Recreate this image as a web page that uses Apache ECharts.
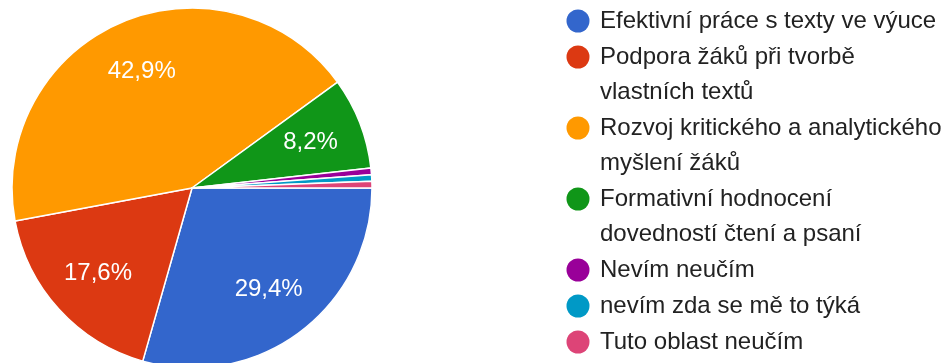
<!DOCTYPE html>
<html>
<head>
<meta charset="utf-8">
<script src="https://cdn.jsdelivr.net/npm/echarts@6/dist/echarts.min.js"></script>
<style>
  html, body { margin: 0; padding: 0; background: #fff; }
  #chart { width: 946px; height: 363px; }
</style>
</head>
<body>
<div id="chart"></div>
<script>
// Response categories (legend lines broken where they wrap)
const categories = [
  'Efektivní práce s texty ve výuce',
  'Podpora žáků při tvorbě\nvlastních textů',
  'Rozvoj kritického a analytického\nmyšlení žáků',
  'Formativní hodnocení\ndovedností čtení a psaní',
  'Nevím neučím',
  'nevím zda se mě to týká',
  'Tuto oblast neučím'
];
// Number of responses per category
const counts = [50, 30, 73, 14, 1, 1, 1];
const colors = ['#3366cc', '#dc3912', '#ff9900', '#109618', '#990099', '#0099c6', '#dd4477'];

const total = counts.reduce((a, b) => a + b, 0);
const pieData = categories.map((name, i) => ({
  name: name,
  value: counts[i],
  itemStyle: { color: colors[i] }
}));

const cx = 192, cy = 188, R = 180;
const FONT = '"Liberation Sans", Arial, sans-serif';

// Legend drawn as graphic elements so the dot sits on the first text line
const legendGraphics = [];
let y = 21;
categories.forEach((name, i) => {
  const lines = name.split('\n').length;
  legendGraphics.push({
    type: 'circle',
    shape: { cx: 578, cy: y, r: 11.5 },
    style: { fill: colors[i] },
    silent: true
  });
  legendGraphics.push({
    type: 'text',
    x: 600,
    y: y - 17.5,
    style: {
      text: name,
      fill: '#222222',
      font: '24px ' + FONT,
      lineHeight: 35,
      verticalAlign: 'top',
      align: 'left'
    },
    silent: true
  });
  y += lines * 35 + 1;
});

const chart = echarts.init(document.getElementById('chart'), null, { renderer: 'canvas' });
chart.setOption({
  animation: false,
  backgroundColor: '#ffffff',
  graphic: legendGraphics,
  series: [
    {
      // The pie itself
      type: 'pie',
      center: [cx, cy],
      radius: [0, R],
      startAngle: 0,
      clockwise: true,
      avoidLabelOverlap: false,
      label: { show: false },
      labelLine: { show: false },
      itemStyle: { borderColor: '#ffffff', borderWidth: 1.5 },
      silent: true,
      data: pieData
    },
    {
      // Transparent ring carrying the percentage labels further out in each slice
      type: 'pie',
      center: [cx, cy],
      radius: [R * 0.38, R],
      startAngle: 0,
      clockwise: true,
      avoidLabelOverlap: false,
      silent: true,
      itemStyle: { color: 'rgba(0,0,0,0)', borderWidth: 0 },
      labelLine: { show: false },
      label: {
        show: true,
        position: 'inside',
        color: '#ffffff',
        fontFamily: FONT,
        fontSize: 24,
        formatter: p => {
          const pct = p.value / total * 100;
          return pct < 2 ? '' : pct.toFixed(1).replace('.', ',') + '%';
        }
      },
      data: counts.map((v, i) => ({ name: categories[i], value: v }))
    }
  ]
});
</script>
</body>
</html>
